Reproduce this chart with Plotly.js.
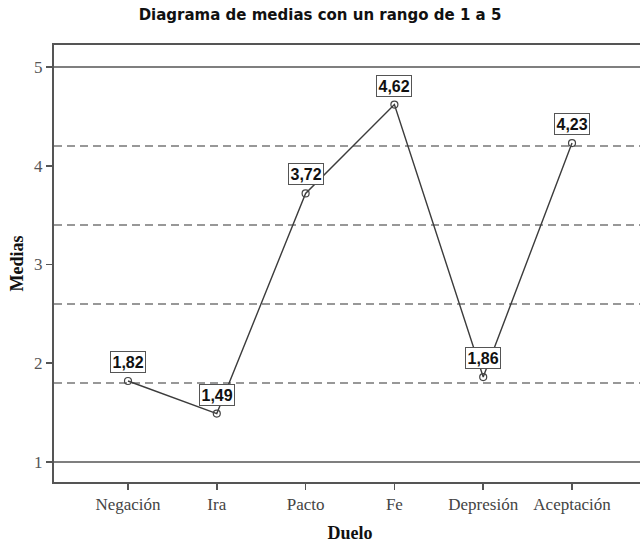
<!DOCTYPE html>
<html>
<head>
<meta charset="utf-8">
<script src="https://cdn.plot.ly/plotly-3.0.1.min.js"></script>
<style>
html,body{margin:0;padding:0;width:640px;height:543px;overflow:hidden;background:#fff;}
#chart{width:646px;height:543px;}
</style>
</head>
<body>
<div id="chart"></div>
<script>
const categories = ['Negación','Ira','Pacto','Fe','Depresión','Aceptación'];
const means = [1.82, 1.49, 3.72, 4.62, 1.86, 4.23];
const solidLines = [1, 5];
const dashedLines = [1.8, 2.6, 3.4, 4.2];
const yTicks = [1, 2, 3, 4, 5];

const W = 646, H = 543;
const serif = '"Liberation Serif", "DejaVu Serif", serif';
const sans = '"Liberation Sans", Arial, sans-serif';
const wideSans = '"DejaVu Sans", "Liberation Sans", sans-serif';

const trace = {
  x: categories,
  y: means,
  type: 'scatter',
  mode: 'lines+markers',
  line: {color: '#3c3c3c', width: 1.4},
  marker: {symbol: 'circle-open', size: 7, color: '#444', line: {width: 1.2, color: '#444'}},
  hoverinfo: 'skip',
  cliponaxis: false
};

const shapes = [];
solidLines.forEach(v => shapes.push({
  type: 'line', xref: 'paper', x0: 0, x1: 1, yref: 'y', y0: v, y1: v,
  line: {color: '#555', width: 1.6}, layer: 'below'
}));
dashedLines.forEach(v => shapes.push({
  type: 'line', xref: 'paper', x0: 0, x1: 1, yref: 'y', y0: v, y1: v,
  line: {color: '#777', width: 1.6, dash: '8px,5px'}, layer: 'below'
}));

const annotations = categories.map((c, i) => ({
  x: c, y: means[i], xref: 'x', yref: 'y',
  text: means[i].toFixed(2).replace('.', ','),
  showarrow: false, yshift: 19,
  font: {family: sans, size: 16, color: '#111', weight: 'bold'},
  bgcolor: '#fff', bordercolor: '#555', borderwidth: 1, borderpad: 1.5
}));

const layout = {
  width: W, height: H,
  margin: {l: 54, r: 0, t: 45, b: 61},
  paper_bgcolor: '#fff', plot_bgcolor: '#fff',
  showlegend: false,
  title: {
    text: 'Diagrama de medias con un rango de 1 a 5',
    font: {family: wideSans, size: 15, color: '#111', weight: 'bold'},
    xref: 'container', yref: 'container', x: 320 / W, xanchor: 'center',
    y: 1 - 15 / H, yanchor: 'middle'
  },
  xaxis: {
    type: 'category', range: [-0.833, 5.833],
    showline: true, mirror: true, linecolor: '#555', linewidth: 2,
    showgrid: false, zeroline: false,
    ticks: 'outside', ticklen: 6, tickcolor: '#555', tickwidth: 1.5,
    tickfont: {family: serif, size: 17, color: '#444'},
    title: {text: 'Duelo', font: {family: serif, size: 18, color: '#111', weight: 'bold'}, standoff: 14}
  },
  yaxis: {
    range: [0.797, 5.223],
    tickvals: yTicks, ticktext: yTicks.map(String),
    showline: true, mirror: true, linecolor: '#555', linewidth: 2,
    showgrid: false, zeroline: false,
    ticks: 'outside', ticklen: 6, tickcolor: '#555', tickwidth: 1.5,
    tickfont: {family: serif, size: 17, color: '#555'},
    title: {text: 'Medias', font: {family: serif, size: 18, color: '#111', weight: 'bold'}, standoff: 6}
  },
  shapes: shapes,
  annotations: annotations
};

Plotly.newPlot('chart', [trace], layout, {displayModeBar: false, staticPlot: true});
</script>
</body>
</html>
